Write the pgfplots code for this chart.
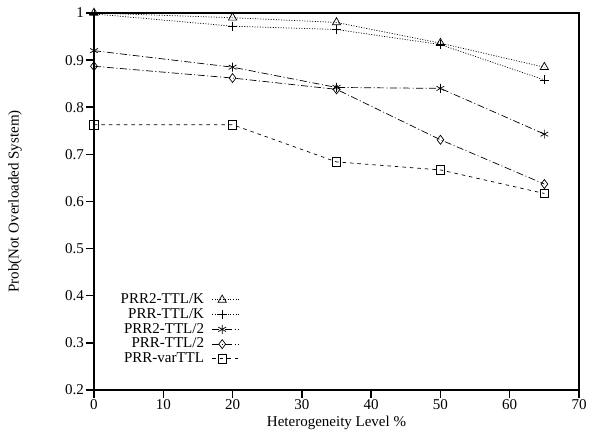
\documentclass[border=0pt]{standalone}
\usepackage{pgfplots}
\pgfplotsset{compat=1.18}
\usepackage{fontspec}
\setmainfont{Liberation Serif}
\begin{document}
\fontsize{15}{16}\selectfont
\begin{tikzpicture}
\begin{axis}[
  name=ax,
  scale only axis,
  width=485pt, height=377pt,
  xmin=0, xmax=70, ymin=0.2, ymax=1,
  xtick={0,10,...,70},
  ytick={0.2,0.3,...,1.0},
  yticklabel style={/pgf/number format/fixed, /pgf/number format/precision=1},
  /pgf/number format/assume math mode=true,
  tick align=outside,
  xtick pos=bottom, ytick pos=left,
  major tick length=8pt,
  axis line style={line width=1.8pt},
  every tick/.style={line width=1.5pt, black},
  tick label style={font=\fontsize{15}{16}\selectfont, inner sep=2pt},
  xticklabel style={inner sep=1pt},
  label style={font=\fontsize{15}{16}\selectfont},
  xlabel={Heterogeneity Level \%},
  ylabel={Prob(Not Overloaded System)},
  xlabel style={at={(axis description cs:0.5,0)}, anchor=center, yshift=-33pt},
  ylabel style={at={(axis description cs:0,0.5)}, anchor=center, yshift=79pt, xshift=0pt},
  legend style={draw=none, fill=none, at={(rel axis cs:0.053,0.258)}, anchor=north west,
    font=\fontsize{15}{15}\selectfont, row sep=1pt, inner sep=0pt,
    nodes={inner sep=0.8pt}, cells={anchor=east}},
  legend plot pos=right,
  legend image code/.code={\path (0pt,0pt); \draw[mark repeat=2,mark phase=2,#1] plot coordinates {(7pt,0pt) (17pt,0pt) (34pt,0pt)};},
  every axis plot/.append style={black, line width=0.7pt},
  mark options={solid, line width=0.7pt},
]
\addplot[dash pattern=on 1pt off 1.6pt, mark=triangle, mark size=4.8pt] coordinates {(0,1.0) (20,0.99) (35,0.98) (50,0.936) (65,0.885)};
\addlegendentry{PRR2-TTL/K}
\addplot[dash pattern=on 1pt off 1.6pt, mark=+, mark size=4.5pt] coordinates {(0,0.998) (20,0.972) (35,0.965) (50,0.933) (65,0.858)};
\addlegendentry{PRR-TTL/K}
\addplot[dash pattern=on 7pt off 2.5pt on 1pt off 2.5pt, mark=asterisk, mark size=4.5pt] coordinates {(0,0.92) (20,0.885) (35,0.842) (50,0.84) (65,0.743)};
\addlegendentry{PRR2-TTL/2}
\addplot[dash pattern=on 7pt off 2.5pt on 1pt off 2.5pt, mark=diamond, mark size=4.5pt] coordinates {(0,0.887) (20,0.862) (35,0.838) (50,0.731) (65,0.637)};
\addlegendentry{PRR-TTL/2}
\addplot[dash pattern=on 3.5pt off 4pt, mark=square, mark size=4.2pt] coordinates {(0,0.763) (20,0.763) (35,0.684) (50,0.667) (65,0.617)};
\addlegendentry{PRR-varTTL}
\end{axis}
\pgfresetboundingbox
\path (ax.south west) ++(-94pt,-44pt);
\path (ax.north east) ++(13pt,13pt);
\end{tikzpicture}
\end{document}
